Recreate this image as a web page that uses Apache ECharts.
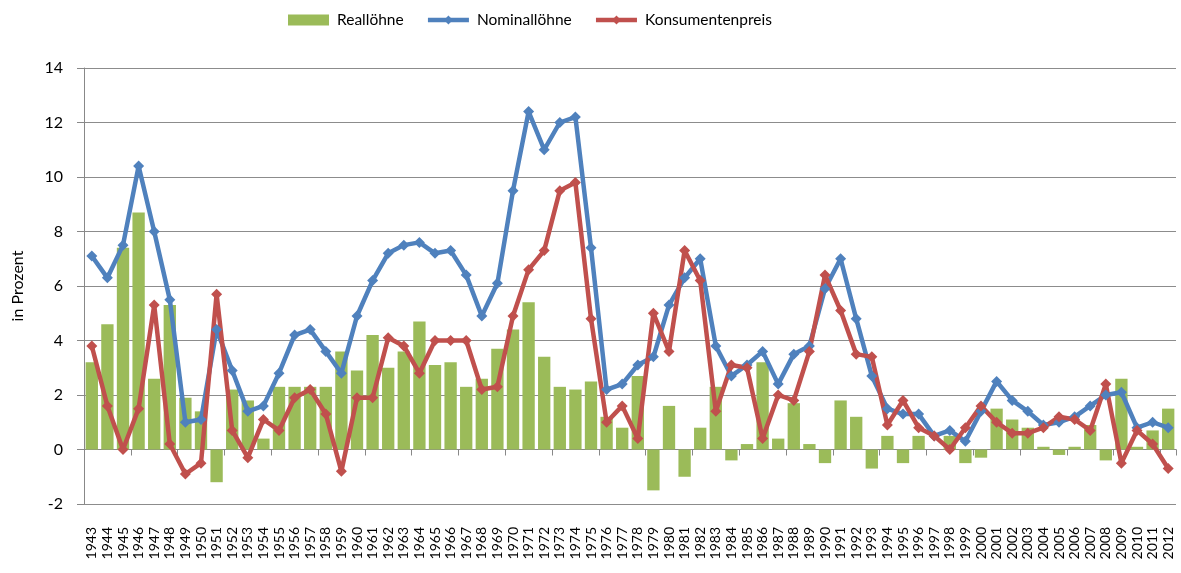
<!DOCTYPE html>
<html>
<head>
<meta charset="utf-8">
<title>Löhne und Preise</title>
<script src="https://cdn.jsdelivr.net/npm/echarts@6.0.0/dist/echarts.min.js"></script>
<style>
	html,body{margin:0;padding:0;background:#fff;}
	#main{width:1181px;height:573px;}
</style>
</head>
<body>
<div id="main"></div>
<script>
//Jahre
var years = [];
for (var y = 1943; y <= 2012; y++) { years.push(String(y)); }
//Reallöhne (Balken)
var reallohn = [3.2,4.6,7.4,8.7,2.6,5.3,1.9,1.4,-1.2,2.2,
	1.8,0.4,2.3,2.3,2.3,2.3,3.6,2.9,4.2,3.0,
	3.6,4.7,3.1,3.2,2.3,2.6,3.7,4.4,5.4,3.4,
	2.3,2.2,2.5,1.2,0.8,2.7,-1.5,1.6,-1.0,0.8,
	2.3,-0.4,0.2,3.2,0.4,1.7,0.2,-0.5,1.8,1.2,
	-0.7,0.5,-0.5,0.5,0.0,0.5,-0.5,-0.3,1.5,1.1,
	0.8,0.1,-0.2,0.1,0.9,-0.4,2.6,0.1,0.7,1.5];
//Nominallöhne
var nominallohn = [7.1,6.3,7.5,10.4,8.0,5.5,1.0,1.1,4.4,2.9,
	1.4,1.6,2.8,4.2,4.4,3.6,2.8,4.9,6.2,7.2,
	7.5,7.6,7.2,7.3,6.4,4.9,6.1,9.5,12.4,11.0,
	12.0,12.2,7.4,2.2,2.4,3.1,3.4,5.3,6.3,7.0,
	3.8,2.7,3.1,3.6,2.4,3.5,3.8,5.9,7.0,4.8,
	2.7,1.5,1.3,1.3,0.5,0.7,0.3,1.4,2.5,1.8,
	1.4,0.9,1.0,1.2,1.6,2.0,2.1,0.8,1.0,0.8];
//Konsumentenpreis
var konsumentenpreis = [3.8,1.6,0.0,1.5,5.3,0.2,-0.9,-0.5,5.7,0.7,
	-0.3,1.1,0.7,1.9,2.2,1.3,-0.8,1.9,1.9,4.1,
	3.8,2.8,4.0,4.0,4.0,2.2,2.3,4.9,6.6,7.3,
	9.5,9.8,4.8,1.0,1.6,0.4,5.0,3.6,7.3,6.2,
	1.4,3.1,3.0,0.4,2.0,1.8,3.6,6.4,5.1,3.5,
	3.4,0.9,1.8,0.8,0.5,0.0,0.8,1.6,1.0,0.6,
	0.6,0.8,1.2,1.1,0.7,2.4,-0.5,0.7,0.2,-0.7];
var yTicks = {min:-2, max:14, interval:2};

var chart = {
	draw:function(dom){
		var myChart = echarts.init(dom);
		var font = 'Lato, "Open Sans", sans-serif';
		var option = {
			animation:false,
			textStyle:{fontFamily:font,color:'#000'},
			legend:{
				top:12,
				left:288,
				padding:0,
				itemWidth:41,
				itemHeight:11,
				itemGap:22,
				textStyle:{fontSize:15.5,color:'#000',fontFamily:font,padding:[0,0,0,3]},
				data:[
					{name:'Reallöhne',icon:'rect'},
					{name:'Nominallöhne',lineStyle:{width:4.5}},
					{name:'Konsumentenpreis',lineStyle:{width:4.5}}
				]
			},
			grid:{left:84,right:5,top:68,bottom:69,containLabel:false},
			xAxis:[
				{
					//Beschriftung unten
					type:'category',
					data:years,
					position:'bottom',
					axisLine:{show:false,onZero:false},
					axisTick:{show:false},
					axisLabel:{rotate:90,margin:23,fontSize:14,color:'#000',fontFamily:font,interval:0}
				},
				{
					//Achse bei Null mit Teilstrichen
					type:'category',
					data:years,
					position:'bottom',
					axisLine:{show:true,onZero:true,lineStyle:{color:'#888',width:1}},
					axisTick:{show:true,length:6,lineStyle:{color:'#888'}},
					axisLabel:{show:false}
				}
			],
			yAxis:[
				{
					type:'value',
					min:yTicks.min,
					max:yTicks.max,
					interval:yTicks.interval,
					name:'in Prozent',
					nameLocation:'middle',
					nameGap:58,
					nameRotate:90,
					nameTextStyle:{fontSize:16,color:'#000',fontFamily:font},
					axisLine:{show:true,lineStyle:{color:'#888'}},
					axisTick:{show:true,length:7,lineStyle:{color:'#888'}},
					axisLabel:{fontSize:16,color:'#000',margin:21,fontFamily:font},
					splitLine:{show:true,lineStyle:{color:'#8c8c8c',width:1.2}}
				}
			],
			series:[
				{
					name:'Reallöhne',
					type:'bar',
					xAxisIndex:0,
					barCategoryGap:'21%',
					itemStyle:{color:'#9BBB59'},
					data:reallohn
				},
				{
					name:'Nominallöhne',
					type:'line',
					xAxisIndex:0,
					symbol:'diamond',
					symbolSize:11,
					lineStyle:{color:'#4F81BD',width:4.5},
					itemStyle:{color:'#4F81BD'},
					data:nominallohn
				},
				{
					name:'Konsumentenpreis',
					type:'line',
					xAxisIndex:0,
					symbol:'diamond',
					symbolSize:11,
					lineStyle:{color:'#C0504D',width:4.5},
					itemStyle:{color:'#C0504D'},
					data:konsumentenpreis
				}
			]
		};
		myChart.setOption(option);
	}
};
chart.draw(document.getElementById('main'));
</script>
</body>
</html>
